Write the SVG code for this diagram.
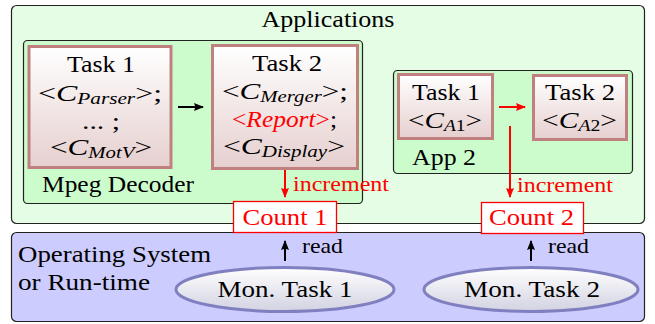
<svg xmlns="http://www.w3.org/2000/svg" width="655" height="324" viewBox="0 0 655 324">
<defs>
<linearGradient id="tg" x1="0" y1="0" x2="0" y2="1"><stop offset="0" stop-color="#ffffff"/><stop offset="1" stop-color="#e6cfcf"/></linearGradient>
<linearGradient id="eg" x1="0" y1="0" x2="0" y2="1"><stop offset="0" stop-color="#ffffff"/><stop offset="1" stop-color="#d2d2e2"/></linearGradient>
<marker id="ak" viewBox="0 0 10 8" refX="9" refY="4" markerWidth="10" markerHeight="8" markerUnits="userSpaceOnUse" orient="auto"><path d="M0,0 L10,4 L0,8 Q2,4 0,0 z" fill="#000"/></marker>
<marker id="ar" viewBox="0 0 10 8" refX="9" refY="4" markerWidth="10" markerHeight="8" markerUnits="userSpaceOnUse" orient="auto"><path d="M0,0 L10,4 L0,8 Q2,4 0,0 z" fill="#ff0000"/></marker>
</defs>

<g id="applications">
<rect x="11.5" y="5.5" width="633" height="218" rx="5" fill="#e5fde5" stroke="#222" stroke-width="1.2"/>
<text style="font-family:Liberation Serif,serif;font-size:24px" x="328" y="27" text-anchor="middle" textLength="133" lengthAdjust="spacingAndGlyphs">Applications</text>
</g>

<g id="mpeg-decoder">
<rect x="23.5" y="40.5" width="339" height="163" rx="4" fill="#ccfccc" stroke="#222" stroke-width="1.2"/>
<text style="font-family:Liberation Serif,serif;font-size:24px" x="42" y="192" textLength="152" lengthAdjust="spacingAndGlyphs">Mpeg Decoder</text>
</g>

<g id="mpeg-task1" text-anchor="middle">
<rect x="29" y="46.5" width="142" height="121" fill="url(#tg)" stroke="#c08080" stroke-width="3"/>
<text style="font-family:Liberation Serif,serif;font-size:24px" x="101" y="72" textLength="68" lengthAdjust="spacingAndGlyphs">Task 1</text>
<text style="font-family:Liberation Serif,serif;font-size:24px" x="100" y="101" textLength="124" lengthAdjust="spacingAndGlyphs">&lt;<tspan font-style="italic">C</tspan><tspan font-size="16" font-style="italic" dy="3">Parser</tspan><tspan dy="-3">&gt;;</tspan></text>
<text style="font-family:Liberation Serif,serif;font-size:24px" x="101" y="129" textLength="38" lengthAdjust="spacingAndGlyphs">... ;</text>
<text style="font-family:Liberation Serif,serif;font-size:24px" x="101" y="155" textLength="102" lengthAdjust="spacingAndGlyphs">&lt;<tspan font-style="italic">C</tspan><tspan font-size="16" font-style="italic" dy="3">MotV</tspan><tspan dy="-3">&gt;</tspan></text>
</g>

<g id="mpeg-task2" text-anchor="middle">
<rect x="212.5" y="45.5" width="145" height="123" fill="url(#tg)" stroke="#c08080" stroke-width="3"/>
<text style="font-family:Liberation Serif,serif;font-size:24px" x="287" y="71" textLength="70" lengthAdjust="spacingAndGlyphs">Task 2</text>
<text style="font-family:Liberation Serif,serif;font-size:24px" x="285" y="99" textLength="126" lengthAdjust="spacingAndGlyphs">&lt;<tspan font-style="italic">C</tspan><tspan font-size="16" font-style="italic" dy="3">Merger</tspan><tspan dy="-3">&gt;;</tspan></text>
<text style="font-family:Liberation Serif,serif;font-size:24px" x="284.5" y="127" textLength="105" lengthAdjust="spacingAndGlyphs"><tspan fill="#ff0000">&lt;<tspan font-style="italic">Report</tspan>&gt;</tspan>;</text>
<text style="font-family:Liberation Serif,serif;font-size:24px" x="284" y="154" textLength="122" lengthAdjust="spacingAndGlyphs">&lt;<tspan font-style="italic">C</tspan><tspan font-size="16" font-style="italic" dy="3">Display</tspan><tspan dy="-3">&gt;</tspan></text>
</g>

<g id="app2">
<rect x="393.5" y="70.5" width="239" height="103" rx="4" fill="#ccfccc" stroke="#222" stroke-width="1.2"/>
<text style="font-family:Liberation Serif,serif;font-size:24px" x="412" y="165" textLength="64" lengthAdjust="spacingAndGlyphs">App 2</text>
</g>

<g id="app2-task1" text-anchor="middle">
<rect x="398.5" y="74.5" width="94" height="64" fill="url(#tg)" stroke="#c08080" stroke-width="3"/>
<text style="font-family:Liberation Serif,serif;font-size:24px" x="446" y="100" textLength="68" lengthAdjust="spacingAndGlyphs">Task 1</text>
<text style="font-family:Liberation Serif,serif;font-size:24px" x="445" y="128" textLength="74" lengthAdjust="spacingAndGlyphs">&lt;<tspan font-style="italic">C</tspan><tspan font-size="16" dy="3"><tspan font-style="italic">A</tspan>1</tspan><tspan dy="-3">&gt;</tspan></text>
</g>

<g id="app2-task2" text-anchor="middle">
<rect x="533.5" y="75.5" width="93" height="64" fill="url(#tg)" stroke="#c08080" stroke-width="3"/>
<text style="font-family:Liberation Serif,serif;font-size:24px" x="580" y="100" textLength="70" lengthAdjust="spacingAndGlyphs">Task 2</text>
<text style="font-family:Liberation Serif,serif;font-size:24px" x="579.5" y="128" textLength="75" lengthAdjust="spacingAndGlyphs">&lt;<tspan font-style="italic">C</tspan><tspan font-size="16" dy="3"><tspan font-style="italic">A</tspan>2</tspan><tspan dy="-3">&gt;</tspan></text>
</g>

<g id="os">
<rect x="11.5" y="232.5" width="633" height="89" rx="5" fill="#ccccff" stroke="#222" stroke-width="1.2"/>
<text style="font-family:Liberation Serif,serif;font-size:24px" x="18" y="262" textLength="193" lengthAdjust="spacingAndGlyphs">Operating System</text>
<text style="font-family:Liberation Serif,serif;font-size:24px" x="18" y="290" textLength="132" lengthAdjust="spacingAndGlyphs">or Run-time</text>
</g>

<g id="mon-task1" text-anchor="middle">
<ellipse cx="285" cy="289.5" rx="109" ry="22" fill="url(#eg)" stroke="#8080c0" stroke-width="3"/>
<text style="font-family:Liberation Serif,serif;font-size:24px" x="285" y="297" textLength="135" lengthAdjust="spacingAndGlyphs">Mon. Task 1</text>
</g>

<g id="mon-task2" text-anchor="middle">
<ellipse cx="531" cy="289.5" rx="107" ry="22" fill="url(#eg)" stroke="#8080c0" stroke-width="3"/>
<text style="font-family:Liberation Serif,serif;font-size:24px" x="532" y="297" textLength="136" lengthAdjust="spacingAndGlyphs">Mon. Task 2</text>
</g>

<g id="connectors">
<line x1="178" y1="107" x2="203" y2="107" stroke="#000" stroke-width="2" marker-end="url(#ak)"/>
<line x1="499" y1="107" x2="525" y2="107" stroke="#ff0000" stroke-width="2" marker-end="url(#ar)"/>
<line x1="285" y1="170" x2="285" y2="197" stroke="#ff0000" stroke-width="2" marker-end="url(#ar)"/>
<text style="font-family:Liberation Serif,serif;font-size:22px" x="293" y="191" fill="#ff0000" textLength="96" lengthAdjust="spacingAndGlyphs">increment</text>
<line x1="510" y1="126" x2="510" y2="197" stroke="#ff0000" stroke-width="2" marker-end="url(#ar)"/>
<text style="font-family:Liberation Serif,serif;font-size:22px" x="517" y="192" fill="#ff0000" textLength="96" lengthAdjust="spacingAndGlyphs">increment</text>
<line x1="285" y1="261" x2="285" y2="241" stroke="#000" stroke-width="2" marker-end="url(#ak)"/>
<text style="font-family:Liberation Serif,serif;font-size:22px" x="302" y="253" textLength="41" lengthAdjust="spacingAndGlyphs">read</text>
<line x1="531" y1="261" x2="531" y2="241" stroke="#000" stroke-width="2" marker-end="url(#ak)"/>
<text style="font-family:Liberation Serif,serif;font-size:22px" x="548" y="253" textLength="41" lengthAdjust="spacingAndGlyphs">read</text>
</g>

<g id="count1" text-anchor="middle">
<rect x="233.5" y="201.5" width="103" height="31" fill="#fff" stroke="#ff0000" stroke-width="1.3"/>
<text style="font-family:Liberation Serif,serif;font-size:24px" x="285" y="225" fill="#ff0000" textLength="85" lengthAdjust="spacingAndGlyphs">Count 1</text>
</g>

<g id="count2" text-anchor="middle">
<rect x="481.5" y="202.5" width="102" height="31" fill="#fff" stroke="#ff0000" stroke-width="1.3"/>
<text style="font-family:Liberation Serif,serif;font-size:24px" x="531.5" y="225" fill="#ff0000" textLength="85" lengthAdjust="spacingAndGlyphs">Count 2</text>
</g>
</svg>
